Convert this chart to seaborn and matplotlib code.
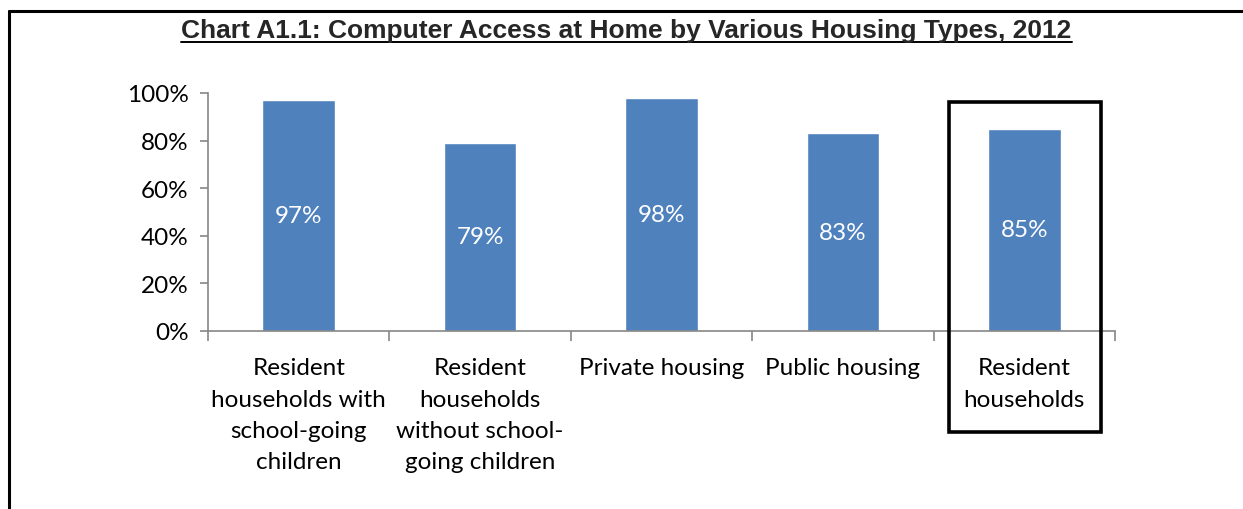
import matplotlib
matplotlib.use("Agg")
import matplotlib.pyplot as plt
from matplotlib.patches import Rectangle
from matplotlib.lines import Line2D
import seaborn as sns
import pandas as pd

categories = [
    "Resident\nhouseholds with\nschool-going\nchildren",
    "Resident\nhouseholds\nwithout school-\ngoing children",
    "Private housing",
    "Public housing",
    "Resident\nhouseholds",
]
values = [97, 79, 98, 83, 85]
ytick_labels = ["0%", "20%", "40%", "60%", "80%", "100%"]
title = "Chart A1.1: Computer Access at Home by Various Housing Types, 2012"

sns.set_theme(style="white")
plt.rcParams["font.family"] = ["Lato", "DejaVu Sans"]

FS = 17.5

df = pd.DataFrame({"cat": categories, "val": values})

fig = plt.figure(figsize=(12.43, 5.10), dpi=100)
ax = fig.add_axes([208 / 1243, 1 - 332 / 510, (1115 - 208) / 1243, (332 - 94) / 510])

sns.barplot(data=df, x="cat", y="val", color="#4F81BD", saturation=1, width=0.4, ax=ax)

ax.set_xlim(-0.5, len(categories) - 0.5)
ax.set_ylim(0, 100)
ax.set_yticks(range(0, 101, 20))
ax.set_yticklabels(ytick_labels, fontsize=FS)
ax.set_xticks(range(len(categories)))
ax.set_xticklabels(categories, fontsize=FS, linespacing=1.6, va="top")
ax.set_xlabel("")
ax.set_ylabel("")

# Value labels
for p, v in zip(ax.patches, values):
    ax.text(p.get_x() + p.get_width() / 2, v / 2, f"{v}%", ha="center", va="center",
            color="white", fontsize=FS)

gray = "#868686"
for s in ["top", "right"]:
    ax.spines[s].set_visible(False)
for s in ["left", "bottom"]:
    ax.spines[s].set_color(gray)
    ax.spines[s].set_linewidth(1.2)

ax.tick_params(axis="y", which="major", direction="out", length=6, color=gray, width=1.2,
               left=True, pad=8, labelcolor="black")
ax.tick_params(axis="x", which="major", length=0, pad=19, labelcolor="black")
ax.set_xticks([i - 0.5 for i in range(len(categories) + 1)], minor=True)
ax.tick_params(axis="x", which="minor", direction="out", length=7, color=gray, width=1.2,
               bottom=True)

# Highlight box around last category
ax.add_patch(Rectangle((3.585, -42.4), 4.423 - 3.585, 96.2 + 42.4, fill=False,
                       edgecolor="black", linewidth=2.6, clip_on=False, zorder=5))

# Title with underline
t = fig.text(0.5 * (173 + 1080) / 1243, 1 - 31 / 510, title, ha="center", va="center",
             fontsize=19, fontweight="bold", family="Liberation Sans")
fig.canvas.draw()
bb = t.get_window_extent()
fig.add_artist(Line2D([bb.x0 / 1243, bb.x1 / 1243], [1 - 43 / 510, 1 - 43 / 510],
                      color="black", linewidth=1.4))

# Outer frame (top and left)
fig.add_artist(Line2D([9 / 1243, 1.0], [1 - 12 / 510, 1 - 12 / 510], color="black", linewidth=2.2))
fig.add_artist(Line2D([9 / 1243, 9 / 1243], [0, 1 - 12 / 510], color="black", linewidth=2.2))

fig.savefig("out.png", dpi=100)
